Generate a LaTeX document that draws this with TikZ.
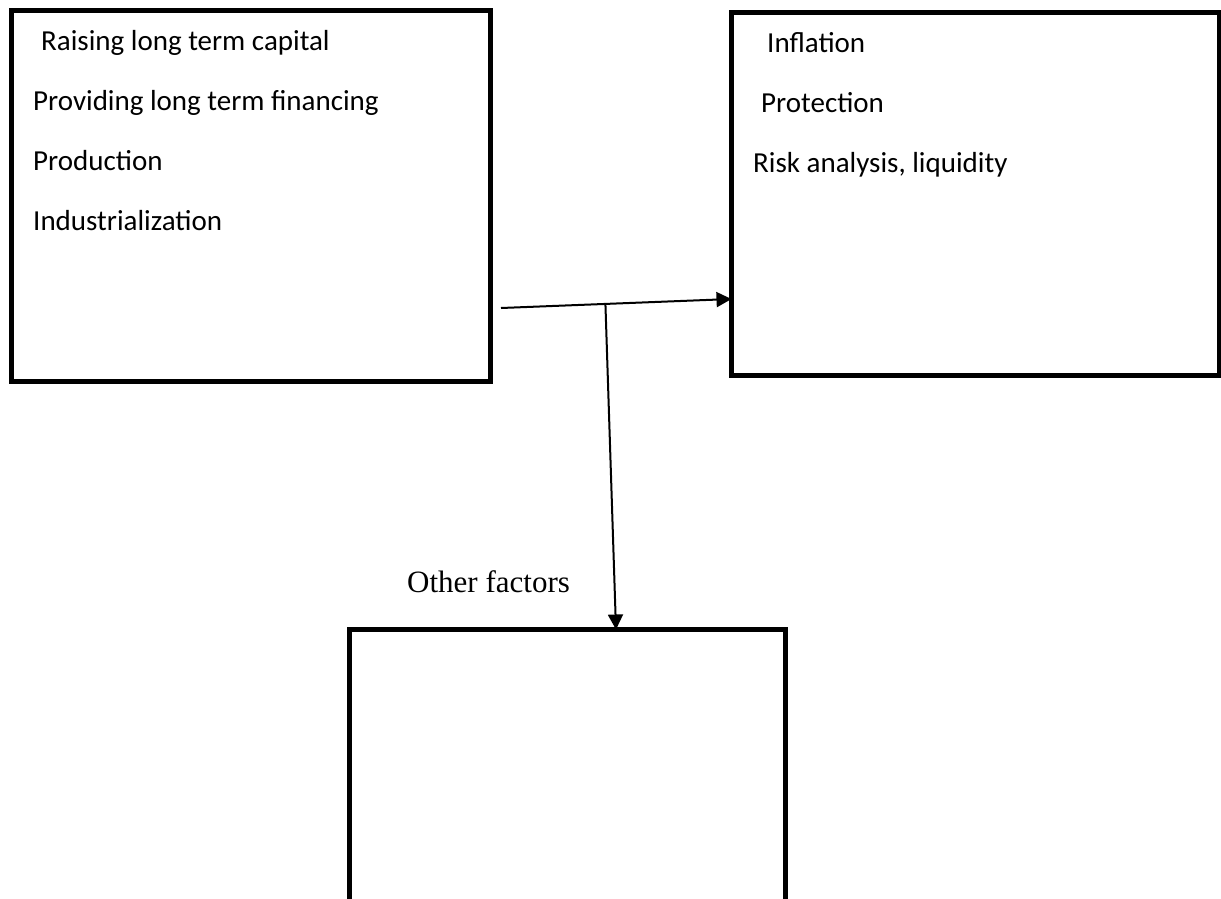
\documentclass[tikz,border=0pt]{standalone}
\usepackage{fontspec}
\setmainfont{Carlito}
\newfontfamily\timesfont{Liberation Serif}
\usetikzlibrary{arrows.meta,calc}
\begin{document}
\begin{tikzpicture}[x=1pt,y=-1pt,
  box/.style={draw=black,line width=5pt,rectangle,inner sep=0pt,outer sep=0pt},
  item/.style={anchor=base west,inner sep=0pt,font=\fontsize{29}{34}\selectfont},
  lbl/.style={anchor=base west,inner sep=0pt,font=\timesfont\fontsize{31}{36}\selectfont},
  arr/.style={line width=2pt,-{Triangle[length=15pt,width=15pt]}}]
\useasboundingbox (0,0) rectangle (1221,898);
\clip (0,0) rectangle (1221,898);
\fill[white] (0,0) rectangle (1221,898);
% boxes
\node[box,minimum width=479pt,minimum height=371pt] (b1) at (250.5,195.5) {};
\node[box,minimum width=487.5pt,minimum height=363pt] (b2) at (975.25,194) {};
\node[box,minimum width=435.5pt,minimum height=290.5pt] (b3) at (567.25,774.75) {};
% texts
\node[item] (t1) at (41,50) {Raising long term capital};
\node[item] (t2) at (33,110) {Providing long term financing};
\node[item] (t3) at (33,170) {Production};
\node[item] (t4) at (33,230) {Industrialization};
\node[item] (u1) at (767,52) {Inflation};
\node[item] (u2) at (761,112) {Protection};
\node[item] (u3) at (753,172) {Risk analysis, liquidity};
\node[lbl] (of) at (407,592) {Other factors};
% connectors
\coordinate (s) at (501,308);
\coordinate (tip) at ([yshift=-105pt]b2.west);
\coordinate (j) at ($(s)!0.453!(tip)$);
\draw[arr] (s) -- (tip);
\draw[arr] (j) -- ([xshift=48.75pt]b3.north);
\end{tikzpicture}
\end{document}
